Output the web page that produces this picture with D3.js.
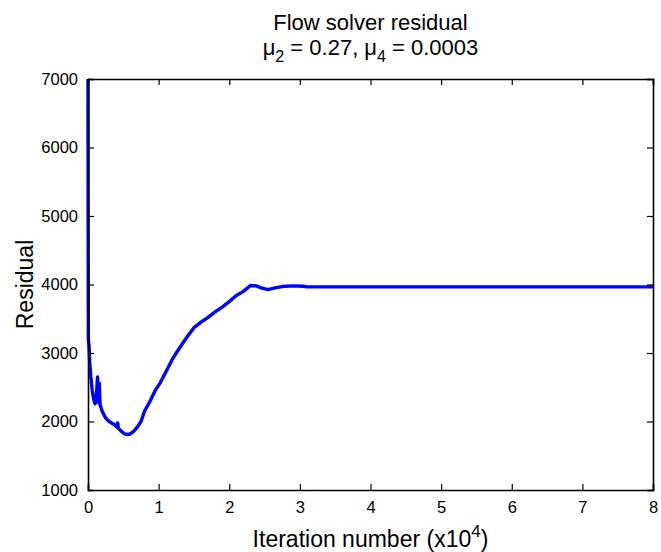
<!DOCTYPE html>
<html>
<head>
<meta charset="utf-8">
<script src="https://cdn.jsdelivr.net/npm/d3@7"></script>
<style>
  html, body { margin: 0; padding: 0; background: #fff; }
  text { font-family: "Liberation Sans", Arial, Helvetica, sans-serif; fill: #000; }
</style>
</head>
<body>
<svg id="chart" width="661" height="552"></svg>
<script>
// Iterations in units of 10^4
const iterations = [0, 0.002, 0.005, 0.015, 0.025, 0.04, 0.06, 0.08, 0.1, 0.12, 0.135, 0.145, 0.16, 0.17, 0.2, 0.25, 0.3, 0.38, 0.41, 0.42, 0.43, 0.48, 0.52, 0.56, 0.6, 0.65, 0.7, 0.75, 0.8, 0.88, 0.95, 1.02, 1.1, 1.2, 1.3, 1.4, 1.5, 1.6, 1.7, 1.8, 1.9, 2.0, 2.1, 2.2, 2.3, 2.38, 2.45, 2.55, 2.65, 2.75, 2.9, 3.05, 3.1, 4, 5, 6, 7, 8];
const residuals  = [7000, 5000, 3200, 3100, 2850, 2650, 2450, 2330, 2260, 2400, 2650, 2280, 2560, 2250, 2150, 2050, 2000, 1950, 1920, 1980, 1900, 1850, 1820, 1810, 1820, 1860, 1920, 2000, 2150, 2300, 2450, 2560, 2720, 2920, 3080, 3230, 3370, 3450, 3520, 3600, 3670, 3750, 3840, 3900, 3985, 3980, 3950, 3925, 3950, 3970, 3980, 3975, 3965, 3965, 3965, 3965, 3965, 3965];
const xTicks = [0, 1, 2, 3, 4, 5, 6, 7, 8];
const yTicks = [1000, 2000, 3000, 4000, 5000, 6000, 7000];

(function () {
const svg = d3.select("#chart");
const mLeft = 88, mRight = 653, mTop = 79, mBottom = 490;

const x = d3.scaleLinear().domain([0, 8]).range([mLeft, mRight]);
const y = d3.scaleLinear().domain([1000, 7000]).range([mBottom, mTop]);

const data = iterations.map((d, i) => [d, residuals[i]]);
svg.append("path")
  .datum(data)
  .attr("fill", "none")
  .attr("stroke", "#0000ff")
  .attr("stroke-width", 3.4)
  .attr("stroke-linejoin", "round")
  .attr("d", d3.line().x(d => x(d[0])).y(d => y(d[1])));

const tickLen = 6;
const fmt = d3.format("d");

const xb = svg.append("g").attr("transform", `translate(0,${mBottom})`)
  .call(d3.axisBottom(x).tickValues(xTicks).tickSize(-tickLen).tickPadding(tickLen + 5).tickFormat(fmt));
svg.append("g").attr("transform", `translate(0,${mTop})`)
  .call(d3.axisTop(x).tickValues(xTicks).tickSize(-tickLen).tickFormat(""));
svg.append("g").attr("transform", `translate(${mLeft},0)`)
  .call(d3.axisLeft(y).tickValues(yTicks).tickSize(-tickLen).tickPadding(tickLen + 4).tickFormat(fmt));
svg.append("g").attr("transform", `translate(${mRight},0)`)
  .call(d3.axisRight(y).tickValues(yTicks).tickSize(-tickLen).tickFormat(""));

svg.selectAll(".domain").attr("stroke", "#000").attr("stroke-width", 1.6);
svg.selectAll(".tick line").attr("stroke", "#000").attr("stroke-width", 1.2);
svg.selectAll(".tick text").attr("font-size", "16.5px").attr("font-family", "Liberation Sans, Arial, sans-serif").attr("fill", "#000");
xb.selectAll(".tick text").attr("dy", "0.71em");

const cx = (mLeft + mRight) / 2;
svg.append("text")
  .attr("x", cx).attr("y", 30)
  .attr("text-anchor", "middle")
  .attr("font-size", "22px")
  .text("Flow solver residual");

const t2 = svg.append("text")
  .attr("x", cx).attr("y", 55)
  .attr("text-anchor", "middle")
  .attr("font-size", "22px");
t2.append("tspan").text("μ");
t2.append("tspan").attr("font-size", "16px").attr("dy", 7).text("2");
t2.append("tspan").attr("dy", -7).text(" = 0.27, μ");
t2.append("tspan").attr("font-size", "16px").attr("dy", 7).text("4");
t2.append("tspan").attr("dy", -7).text(" = 0.0003");

const xl = svg.append("text")
  .attr("x", cx).attr("y", 547)
  .attr("text-anchor", "middle")
  .attr("font-size", "23px");
xl.append("tspan").text("Iteration number (x10");
xl.append("tspan").attr("font-size", "17px").attr("dy", -10).text("4");
xl.append("tspan").attr("dy", 10).text(")");

svg.append("text")
  .attr("transform", `translate(33,${(mTop + mBottom) / 2}) rotate(-90)`)
  .attr("text-anchor", "middle")
  .attr("font-size", "23px")
  .text("Residual");
})();
</script>
</body>
</html>
